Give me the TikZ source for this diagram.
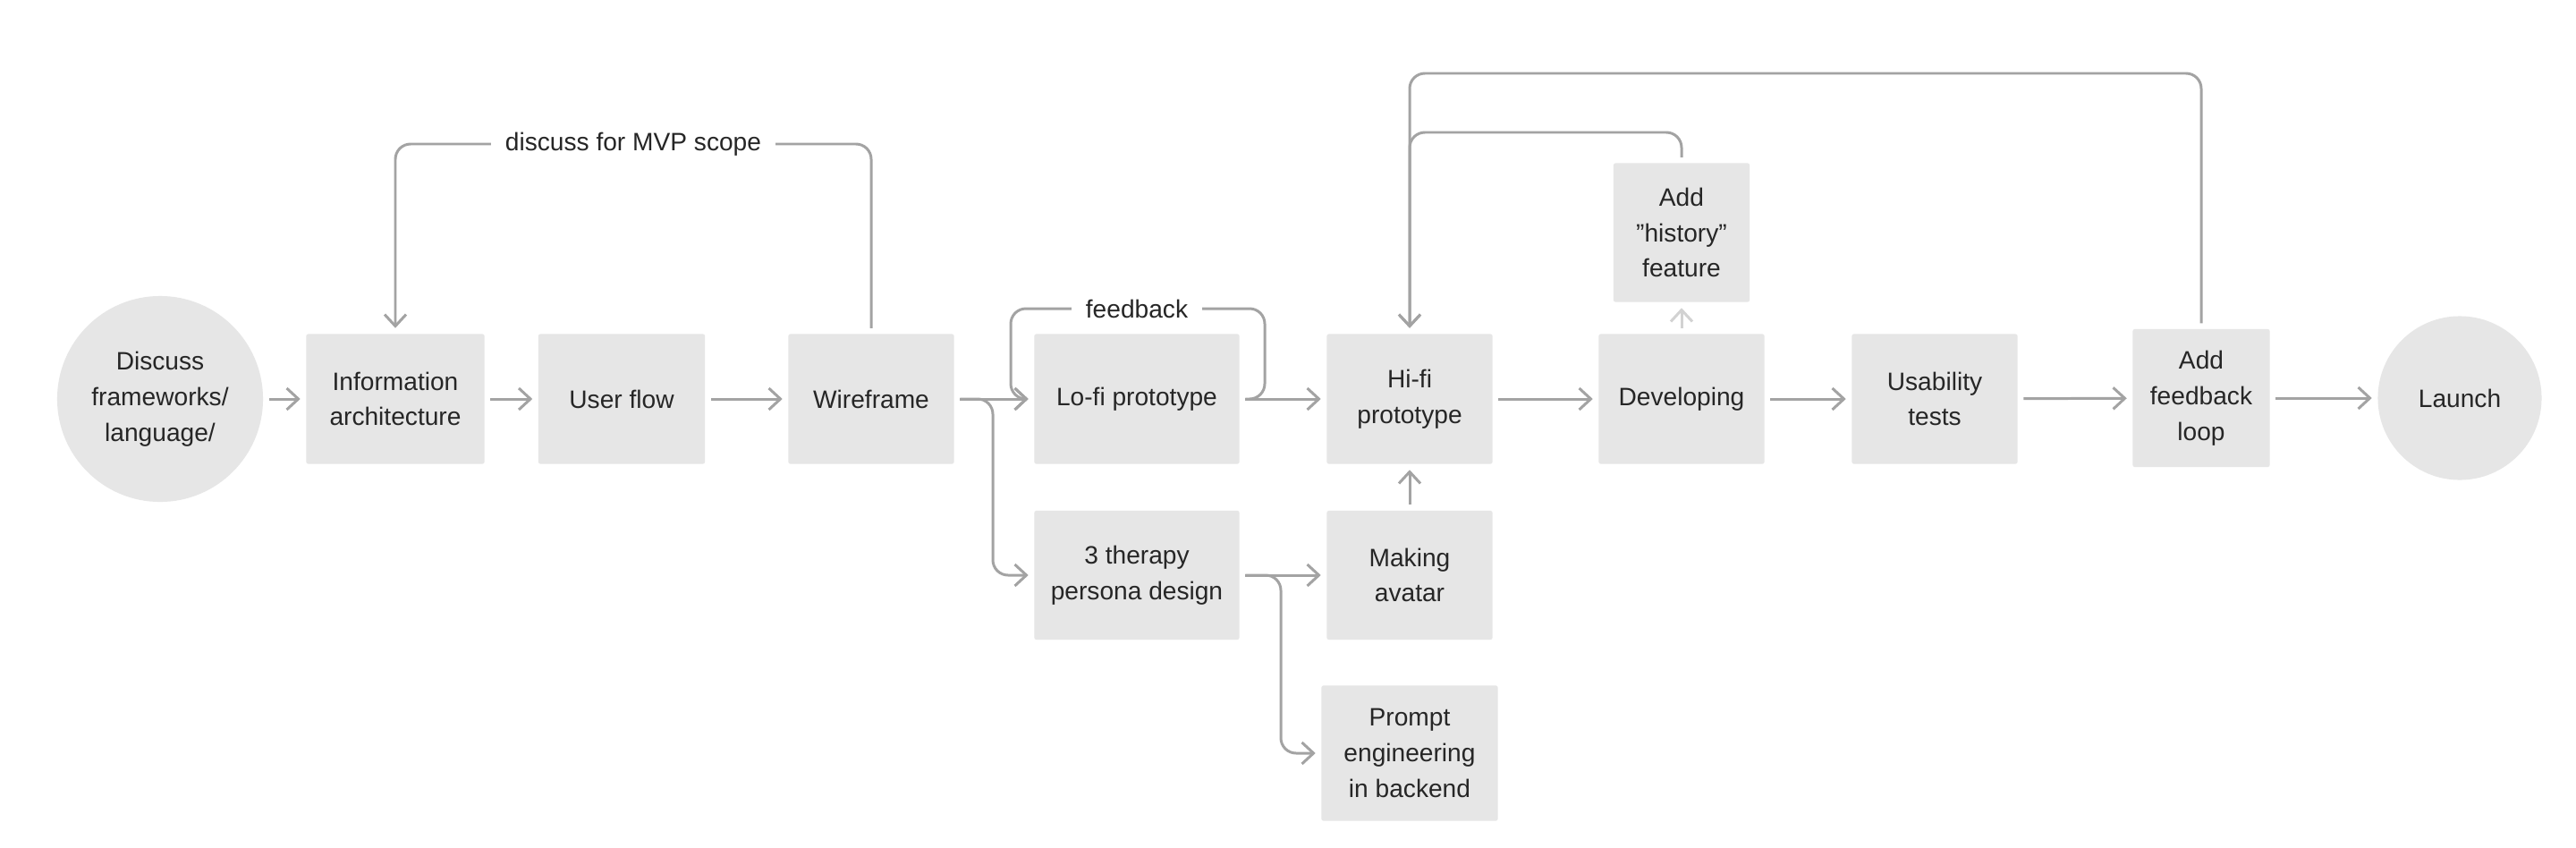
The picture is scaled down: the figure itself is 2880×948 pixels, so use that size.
\documentclass[tikz,border=0pt]{standalone}
\usepackage{fontspec}
\setmainfont{Liberation Sans}
\usetikzlibrary{arrows.meta}
\definecolor{boxgray}{HTML}{E6E6E6}
\definecolor{linegray}{HTML}{A3A3A3}
\definecolor{faintgray}{HTML}{D2D2D2}
\definecolor{textgray}{HTML}{262626}

\begin{document}
\begin{tikzpicture}[x=0.01cm, y=-0.01cm]
	\tikzstyle{every node}=[inner sep=0pt, align=center, text=textgray, font=\fontsize{8}{11.3}\selectfont]
	\tikzstyle{stepbox}=[fill=boxgray, rounded corners=0.6pt, minimum width=1.85cm, minimum height=1.45cm]
	\tikzstyle{endpoint}=[circle, fill=boxgray]
	\tikzstyle{flow}=[draw=linegray, line width=0.85pt, shorten <=0.6mm, shorten >=0.6mm, -{Straight Barb[length=1.3mm, width=2.4mm]}]
	\tikzstyle{loop}=[flow, rounded corners=1.7mm]
	\tikzstyle{looplabel}=[fill=white, inner xsep=1.6mm, inner ysep=1mm]
	\fill [white] (0,0) rectangle (2880,948);
	\node [endpoint, minimum size=2.3cm] (discuss) at (179, 446) {Discuss\\frameworks/\\language/};
	\node [stepbox, minimum width=1.99cm] (info) at (442, 446) {Information\\architecture};
	\node [stepbox, minimum width=1.86cm] (uflow) at (695, 446) {User flow};
	\node [stepbox] (wire) at (974, 446) {Wireframe};
	\node [stepbox, minimum width=2.29cm] (lofi) at (1271, 446) {Lo-fi prototype};
	\node [stepbox, minimum width=2.29cm, minimum height=1.44cm] (persona) at (1271, 643) {3 therapy\\persona design};
	\node [stepbox] (hifi) at (1576, 446) {Hi-fi\\prototype};
	\node [stepbox, minimum height=1.44cm] (avatar) at (1576, 643) {Making\\avatar};
	\node [stepbox, minimum width=1.97cm, minimum height=1.51cm] (prompt) at (1576, 842) {Prompt\\engineering\\in backend};
	\node [stepbox] (dev) at (1880, 446) {Developing};
	\node [stepbox, minimum width=1.52cm, minimum height=1.55cm] (hist) at (1880, 260) {Add\\”history”\\feature};
	\node [stepbox] (usab) at (2163, 446) {Usability\\tests};
	\node [stepbox, minimum width=1.53cm, minimum height=1.54cm] (addfb) at (2461, 445) {Add\\feedback\\loop};
	\node [endpoint, minimum size=1.83cm] (launch) at (2750, 445) {Launch};
	% main line
	\draw [flow] (discuss) -- (info);
	\draw [flow] (info) -- (uflow);
	\draw [flow] (uflow) -- (wire);
	\draw [flow] (wire) -- (lofi);
	\draw [loop] (wire.east) -| (1110, 560) |- (persona.west);
	\draw [flow] (lofi) -- (hifi);
	\draw [flow] (persona) -- (avatar);
	\draw [loop] (persona.east) -| (1432, 760) |- (prompt.west);
	\draw [flow] (avatar) -- (hifi);
	\draw [flow] (hifi) -- (dev);
	\draw [flow] (dev) -- (usab);
	\draw [flow] (usab) -- (addfb);
	\draw [flow] (addfb) -- (launch);
	\draw [flow, draw=faintgray] (dev) -- (hist);
	% loops back
	\draw [loop] (wire.north) -- (974, 161) -| (info.north);
	\node [looplabel] (mvp) at (708, 161) {discuss for MVP scope};
	\draw [loop] (lofi.east) -| (1414, 345) -| (1130, 446) -- (lofi.west);
	\node [looplabel] (fb) at (1271, 345) {feedback};
	\draw [loop] (hist.north) -- (1880, 148) -| (hifi.north);
	\draw [loop] (addfb.north) -- (2461, 82) -| (hifi.north);
\end{tikzpicture}
\end{document}
